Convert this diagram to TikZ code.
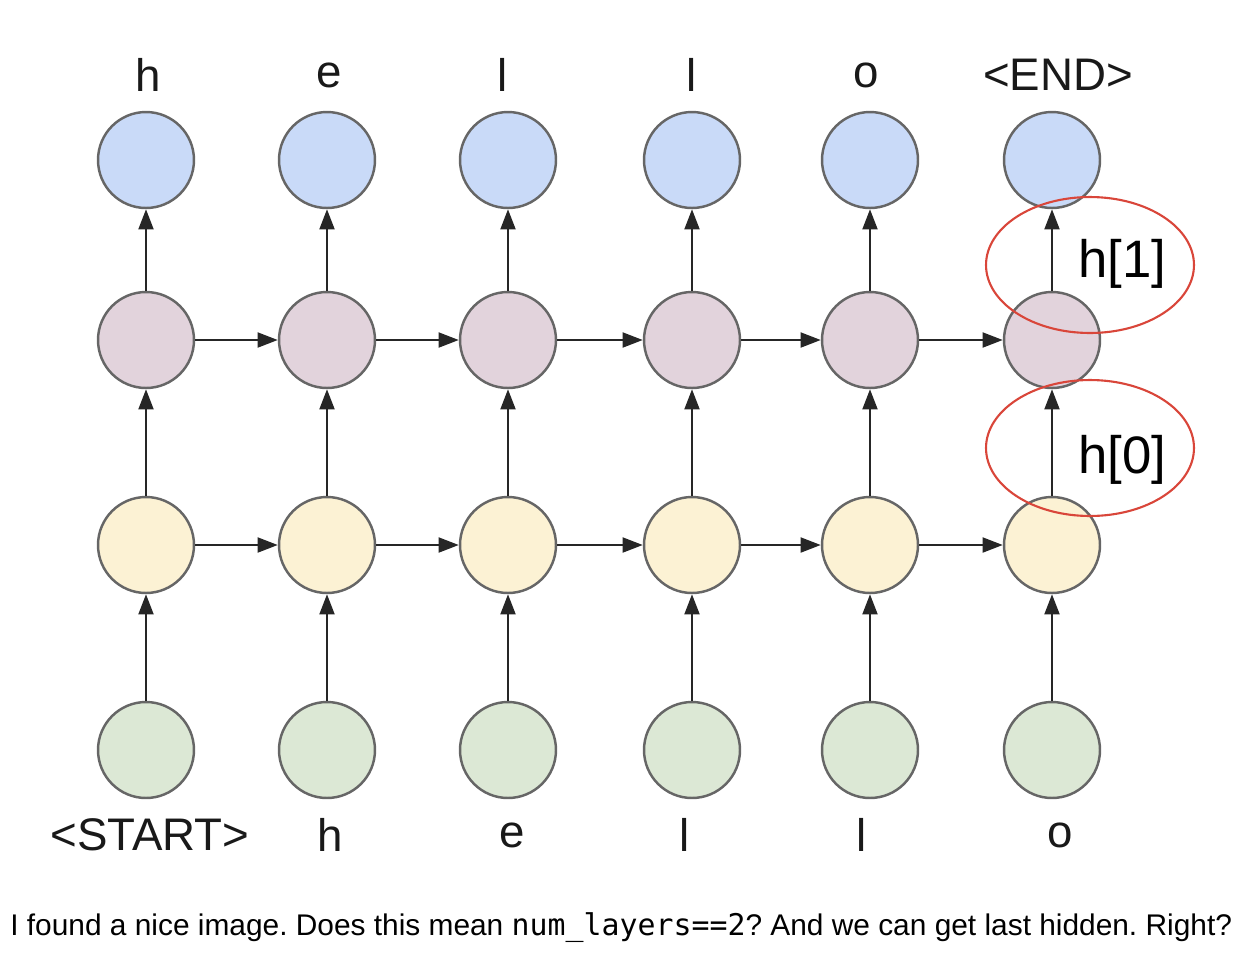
\documentclass[tikz,border=0pt]{standalone}
\usepackage{fontspec}
\setmainfont{Liberation Sans}
\setmonofont{DejaVu Sans Mono}
\usetikzlibrary{arrows.meta, shapes.geometric}

\definecolor{outblue}{HTML}{C9DAF8}
\definecolor{toppink}{HTML}{E2D3DC}
\definecolor{lowyellow}{HTML}{FCF2D4}
\definecolor{ingreen}{HTML}{DCE8D5}
\definecolor{markred}{HTML}{D9463A}

\frenchspacing

\begin{document}
\begin{tikzpicture}[x=0.02cm, y=-0.02cm,
    cell/.style={circle, draw=black!60, line width=1.4pt, minimum size=1.92cm, inner sep=0pt},
    link/.style={-{Triangle[length=11.5pt, width=8.5pt]}, line width=1.3pt, draw=black!85},
    word/.style={font=\fontsize{26}{30}\selectfont, text=black!90, inner sep=0pt},
    hlabel/.style={font=\fontsize{30}{34}\selectfont, inner sep=0pt},
    ring/.style={ellipse, draw=markred, line width=1.2pt, minimum width=4.16cm, minimum height=2.72cm}]

    \useasboundingbox (0,0) rectangle (1252,958);

    % Draw the four rows of cells, one column per time step
    \foreach \i/\x/\tx/\top/\bx/\bot in {1/146/148/h/150/{<START>}, 2/327/329/e/330/h,
        3/508/503/l/512/e, 4/692/692/l/685/l, 5/870/866/o/862/l, 6/1052/1058/{<END>}/1060/o} {
        \node[cell, fill=outblue] (o\i) at (\x,160) {};
        \node[cell, fill=toppink] (b\i) at (\x,340) {};
        \node[cell, fill=lowyellow] (a\i) at (\x,545) {};
        \node[cell, fill=ingreen] (x\i) at (\x,750) {};

        % Output and input characters
        \node[word] (t\i) at (\tx,75) {\top};
        \node[word] (s\i) at (\bx,835) {\bot};

        % Vertical connections
        \draw[link] (x\i) -- (a\i);
        \draw[link] (a\i) -- (b\i);
        \draw[link] (b\i) -- (o\i);
    }

    % Horizontal connections between time steps
    \foreach \i/\j in {1/2, 2/3, 3/4, 4/5, 5/6} {
        \draw[link] (a\i) -- (a\j);
        \draw[link] (b\i) -- (b\j);
    }

    % Red marks on the last column
    \node[ring] (ring1) at (1090,265) {};
    \node[ring] (ring0) at (1090,448) {};
    \node[hlabel] (h1) at (1122,264) {h[1]};
    \node[hlabel] (h0) at (1122,460) {h[0]};

    % Caption
    \node[anchor=west, font=\fontsize{17}{20}\selectfont, inner sep=0pt] (note) at (10,928)
        {I found a nice image. Does this mean \texttt{num\_layers==2}? And we can get last hidden. Right?};
\end{tikzpicture}
\end{document}
